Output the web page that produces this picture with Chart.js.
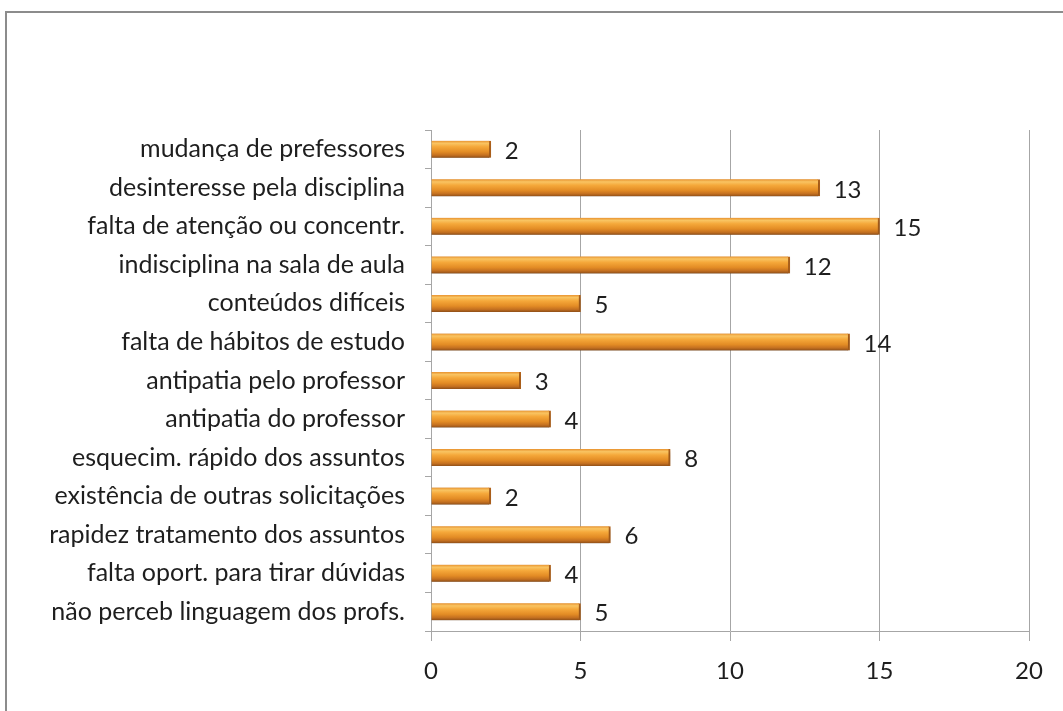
<!DOCTYPE html>
<html><head><meta charset="utf-8">
<script src="https://cdn.jsdelivr.net/npm/chart.js@4/dist/chart.umd.min.js"></script>
<style>
html,body{margin:0;padding:0;background:#fff;overflow:hidden}
#wrap{position:relative;width:1063px;height:711px}
#frame{position:absolute;left:5px;top:11px;width:1100px;height:800px;border-left:2px solid #8c8c8c;border-top:2px solid #8c8c8c;pointer-events:none}
canvas{position:absolute;left:0;top:0}
</style></head>
<body><div id="wrap"><canvas id="c" width="1063" height="711"></canvas><div id="frame"></div></div>
<script>
const categories = [
  "mudança de prefessores",
  "desinteresse pela disciplina",
  "falta de atenção ou concentr.",
  "indisciplina na sala de aula",
  "conteúdos difíceis",
  "falta de hábitos de estudo",
  "antipatia pelo professor",
  "antipatia do professor",
  "esquecim. rápido dos assuntos",
  "existência de outras solicitações",
  "rapidez tratamento dos assuntos",
  "falta oport. para tirar dúvidas",
  "não perceb linguagem dos profs."
];
const values = [2, 13, 15, 12, 5, 14, 3, 4, 8, 2, 6, 4, 5];
const xTicks = [0, 5, 10, 15, 20];

const FONT = "Lato, 'Open Sans', sans-serif";
const BAR_H = 17;

function barGradient(c) {
  const chart = c.chart;
  const ys = chart.scales && chart.scales.y;
  if (!ys || !chart.chartArea || c.dataIndex === undefined) return '#f0a040';
  const cy = ys.getPixelForValue(c.dataIndex);
  const top = cy - BAR_H / 2, bot = cy + BAR_H / 2;
  if (!isFinite(top)) return '#f0a040';
  const g = chart.ctx.createLinearGradient(0, top, 0, bot);
  g.addColorStop(0, '#e8922e');
  g.addColorStop(0.15, '#f9c462');
  g.addColorStop(0.35, '#f5a83a');
  g.addColorStop(0.65, '#e38c25');
  g.addColorStop(0.85, '#c47020');
  g.addColorStop(1, '#8f4f18');
  return g;
}

const labelPlugin = {
  id: 'barLabels',
  beforeDatasetsDraw(chart) {
    const ctx = chart.ctx;
    ctx.save();
    ctx.shadowColor = 'rgba(0,0,0,0.35)';
    ctx.shadowBlur = 4;
    ctx.shadowOffsetY = 2;
  },
  afterDatasetsDraw(chart) {
    const ctx = chart.ctx;
    ctx.restore();
    const meta = chart.getDatasetMeta(0);
    ctx.save();
    ctx.font = "24px " + FONT;
    ctx.fillStyle = '#1e1e1e';
    ctx.textBaseline = 'middle';
    ctx.textAlign = 'left';
    meta.data.forEach((el, i) => {
      ctx.fillText(String(values[i]), el.x + 14, el.y + 2);
    });
    ctx.restore();
  }
};

new Chart(document.getElementById('c'), {
  type: 'bar',
  data: {
    labels: categories,
    datasets: [{
      data: values,
      backgroundColor: barGradient,
      borderWidth: { top: 0, bottom: 0, left: 0, right: 2 },
      borderColor: '#b8661c',
      borderSkipped: 'start',
      barThickness: BAR_H
    }]
  },
  options: {
    indexAxis: 'y',
    responsive: false,
    animation: false,
    devicePixelRatio: 1,
    layout: { padding: { left: 0, right: 34, top: 130, bottom: 0 } },
    plugins: { legend: { display: false }, tooltip: { enabled: false } },
    scales: {
      x: {
        min: 0, max: 20,
        afterBuildTicks(scale) { scale.ticks = xTicks.map(v => ({ value: v })); },
        afterFit(scale) { scale.height = 80; },
        grid: { color: '#a6a6a6', lineWidth: 1, tickLength: 10, drawOnChartArea: true },
        border: { color: '#a6a6a6', width: 1 },
        ticks: { padding: 16, color: '#1e1e1e', font: { family: FONT, size: 24 } }
      },
      y: {
        offset: true,
        afterFit(scale) { scale.width = 431; },
        grid: { offset: true, drawOnChartArea: false, color: '#a6a6a6', tickLength: 6 },
        border: { color: '#a6a6a6', width: 1 },
        ticks: { padding: 20, color: '#1e1e1e', font: { family: FONT, size: 25 }, autoSkip: false }
      }
    }
  },
  plugins: [labelPlugin]
});
</script></body></html>
